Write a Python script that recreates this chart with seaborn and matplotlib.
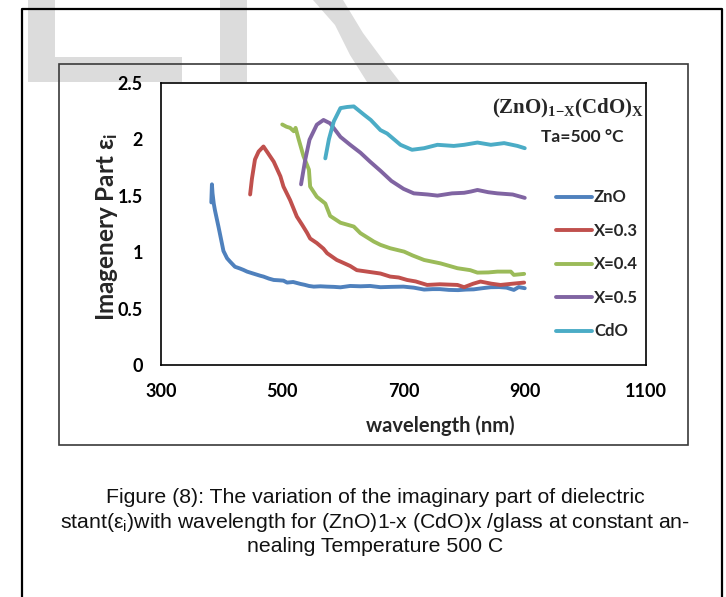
import pandas as pd
import seaborn as sns
import matplotlib.pyplot as plt
from matplotlib.patches import Polygon, Rectangle

# values
series_names = ['ZnO', 'X=0.3', 'X=0.4', 'X=0.5', 'CdO']
series_colors = ['#4F81BD', '#C0504D', '#9BBB59', '#8064A2', '#4BACC6']

zno_wl = [383, 384, 385, 387, 389, 395, 403, 409, 414, 422, 430, 436, 442, 452, 464, 469,
          478, 486, 495, 502, 508, 518, 530, 537, 544, 552, 563, 574, 585, 596, 612, 629,
          645, 662, 680, 700, 717, 734, 748, 760, 775, 790, 803, 816, 830, 844, 858, 870,
          882, 890, 900]
zno_eps = [1.44, 1.60, 1.52, 1.43, 1.37, 1.22, 1.01, 0.945, 0.915, 0.87, 0.855, 0.842, 0.827,
           0.81, 0.79, 0.783, 0.765, 0.753, 0.75, 0.747, 0.73, 0.735, 0.718, 0.71, 0.70, 0.694,
           0.697, 0.694, 0.692, 0.688, 0.70, 0.697, 0.70, 0.689, 0.692, 0.694, 0.685, 0.668,
           0.672, 0.672, 0.665, 0.663, 0.668, 0.67, 0.68, 0.689, 0.69, 0.685, 0.665, 0.69, 0.68]

x03_wl = [447, 450, 455, 461, 469, 476, 486, 497, 502, 513, 524, 533, 541, 546, 557, 568, 574,
          582, 590, 596, 612, 623, 640, 662, 678, 692, 706, 720, 739, 760, 789, 800, 815, 827,
          845, 860, 880, 899]
x03_eps = [1.51, 1.65, 1.82, 1.89, 1.935, 1.88, 1.80, 1.67, 1.58, 1.46, 1.315, 1.24, 1.17,
           1.12, 1.08, 1.03, 0.99, 0.96, 0.93, 0.916, 0.877, 0.84, 0.827, 0.81, 0.783, 0.775,
           0.753, 0.74, 0.709, 0.715, 0.709, 0.689, 0.72, 0.739, 0.72, 0.709, 0.72, 0.73]

x04_wl = [500, 507, 513, 519, 522, 527, 535, 544, 546, 557, 571, 579, 596, 618, 629, 646, 651,
          662, 678, 701, 715, 734, 761, 789, 810, 822, 840, 855, 877, 882, 899]
x04_eps = [2.13, 2.11, 2.10, 2.07, 2.10, 2.00, 1.85, 1.73, 1.58, 1.49, 1.43, 1.32, 1.26, 1.226,
           1.167, 1.11, 1.093, 1.064, 1.034, 1.004, 0.97, 0.93, 0.90, 0.857, 0.84, 0.818, 0.82,
           0.827, 0.827, 0.798, 0.807]

x05_wl = [531, 538, 545, 557, 568, 579, 596, 612, 629, 645, 662, 680, 700, 717, 740, 756, 780,
          800, 811, 822, 840, 855, 880, 900]
x05_eps = [1.60, 1.82, 1.995, 2.128, 2.17, 2.14, 2.02, 1.95, 1.88, 1.80, 1.72, 1.63, 1.56, 1.52,
           1.51, 1.50, 1.52, 1.525, 1.536, 1.55, 1.53, 1.52, 1.51, 1.48]

cdo_wl = [571, 577, 585, 596, 607, 618, 635, 646, 662, 673, 695, 714, 734, 756, 783, 800, 822,
          844, 866, 888, 900]
cdo_eps = [1.83, 2.00, 2.157, 2.275, 2.285, 2.29, 2.216, 2.17, 2.08, 2.05, 1.95, 1.906, 1.92,
           1.95, 1.94, 1.95, 1.97, 1.95, 1.965, 1.94, 1.92]

x_ticks = [300, 500, 700, 900, 1100]
y_ticks = [0, 0.5, 1, 1.5, 2, 2.5]
y_tick_labels = ['0', '0.5', '1', '1.5', '2', '2.5']

caption = ('Figure (8): The variation of the imaginary part of dielectric\n'
           'stant(ε$_\\mathregular{i}$)with wavelength for (ZnO)1-x (CdO)x /glass at constant an-\n'
           'nealing Temperature 500 C')

frames = []
for name, wl, eps in zip(series_names,
                         [zno_wl, x03_wl, x04_wl, x05_wl, cdo_wl],
                         [zno_eps, x03_eps, x04_eps, x05_eps, cdo_eps]):
    frames.append(pd.DataFrame({'wavelength': wl, 'eps': eps, 'sample': name}))
df = pd.concat(frames, ignore_index=True)

sns.set_style('white')
label_font = ['Lato', 'DejaVu Sans']
plt.rcParams['font.family'] = label_font
plt.rcParams['mathtext.default'] = 'regular'

fig = plt.figure(figsize=(7.26, 5.97), dpi=100)

# page decoration layer in pixel coordinates
bg = fig.add_axes([0, 0, 1, 1])
bg.set_xlim(0, 726)
bg.set_ylim(597, 0)
bg.axis('off')
wm = '#dcdcdc'
bg.add_patch(Polygon([(28, 0), (55, 0), (55, 57), (182, 57), (182, 82), (28, 82)], color=wm, lw=0))
bg.add_patch(Polygon([(220, 0), (247, 0), (247, 82), (220, 82)], color=wm, lw=0))
bg.add_patch(Polygon([(313, 0), (343, 0), (363, 33), (383, 60), (400, 82), (367, 82),
                      (350, 55), (335, 25)], color=wm, lw=0))
bg.plot([22, 22, 722, 722], [597, 9, 9, 597], color='black', lw=1.6)
bg.add_patch(Rectangle((59, 64), 629, 381, fill=False, ec='#3a3a3a', lw=1.2))

bg.text(375, 522, caption, ha='center', va='center', fontsize=15.3, linespacing=1.2,
        family=['Liberation Sans', 'DejaVu Sans'], color='#111111')

ax = fig.add_axes([161 / 726, 232 / 597, 485 / 726, 282.3 / 597])
sns.lineplot(data=df, x='wavelength', y='eps', hue='sample', hue_order=series_names,
             palette=series_colors, estimator=None, sort=False, lw=2.8, legend=False, ax=ax)

ax.set_xlim(300, 1100)
ax.set_ylim(0, 2.5)
ax.set_xticks(x_ticks)
ax.set_yticks(y_ticks)
ax.set_yticklabels(y_tick_labels)
ax.tick_params(direction='in', length=5, width=1, pad=13, labelsize=13, colors='black')
for lbl in ax.get_xticklabels() + ax.get_yticklabels():
    lbl.set_fontweight('bold')
for sp in ax.spines.values():
    sp.set_visible(True)
    sp.set_color('black')
    sp.set_linewidth(1.2)

ax.set_xlabel('wavelength (nm)', fontsize=14.5, fontweight='bold')
ax.xaxis.set_label_coords(0.575, -0.18)
ax.set_ylabel('Imagenery Part ε$_\\mathregular{i}$', fontsize=17.5, fontweight='bold')
ax.yaxis.set_label_coords(-0.085, 0.49)

# annotations sit inside the plot area, drawn with the axes so the white face does not hide them
ax.text(568, 108, '(ZnO)$_{1\\mathregular{-}X}$(CdO)$_X$', transform=bg.transData,
        ha='center', va='center', family=['Liberation Serif', 'DejaVu Serif'],
        fontweight='bold', fontsize=15)
ax.text(582, 137, 'Ta=500 °C', transform=bg.transData, ha='center', va='center',
        fontweight='bold', fontsize=12.5)

leg = ax.legend(ax.get_lines()[:5], series_names, loc='upper left',
                bbox_to_anchor=(0.783, 0.675), frameon=False, fontsize=12,
                handlelength=2.2, handletextpad=0.1, labelspacing=1.05)
for t in leg.get_texts():
    t.set_fontweight('bold')

fig.savefig('out.png', dpi=100)
